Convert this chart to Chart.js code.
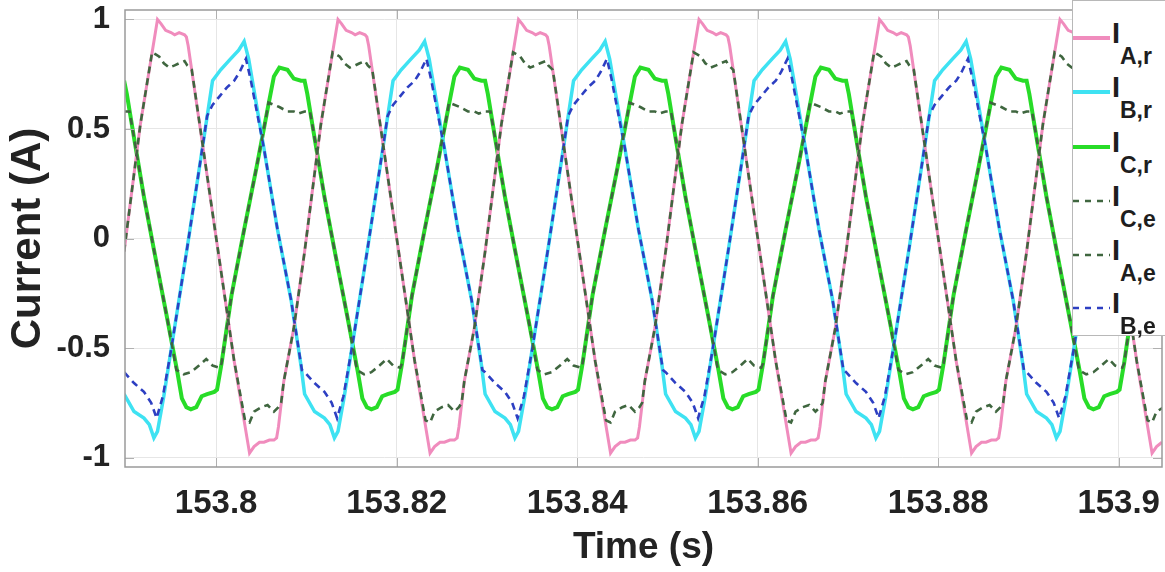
<!DOCTYPE html>
<html>
<head>
<meta charset="utf-8">
<script src="https://cdn.jsdelivr.net/npm/chart.js@4.4.1/dist/chart.umd.min.js"></script>
<style>
  body { margin: 0; background: #fff; }
  #wrap { position: relative; width: 1165px; height: 572px; overflow: hidden; }
  #legend { position: absolute; left: 1072px; top: 0; width: 95px; height: 336px; background: #fff;
            border: 1px solid #b8b8b8; box-sizing: border-box;
            font-family: "Liberation Sans", Arial, sans-serif; font-weight: bold; color: #1e1e1e; }
  .row { position: absolute; left: 0; width: 93px; height: 50px; }
  .row svg { position: absolute; left: 0; top: 18px; }
  .main { position: absolute; left: 39px; top: 2px; font-size: 29px; line-height: 29px; }
  .sub { position: absolute; left: 47px; top: 28px; font-size: 23px; line-height: 23px; }
</style>
</head>
<body>
<div id="wrap">
  <canvas id="chart" width="1165" height="572"></canvas>
  <div id="legend"></div>
</div>
<script>
// time in ms after 153.78 s
const T0 = 153.78;
const xTicks = [153.8, 153.82, 153.84, 153.86, 153.88, 153.9];
const yTicks = [-1, -0.5, 0, 0.5, 1];

const tAr = [
  9.8,11.6,13.5,13.9,14.4,15.0,15.4,15.9,16.5,16.7,16.9,19.8,22.0,23.7,24.2,24.8,25.3,25.9,26.4,26.7,26.9,27.5,28.6,
  29.8,31.6,33.5,33.9,34.4,35.0,35.4,35.9,36.5,36.7,36.9,39.8,42.0,43.7,44.2,44.8,45.3,45.9,46.4,46.7,46.9,47.5,48.6,
  49.8,51.6,53.5,53.9,54.4,55.0,55.4,55.9,56.5,56.7,56.9,59.8,62.0,63.7,64.2,64.8,65.3,65.9,66.4,66.7,66.9,67.5,68.6,
  69.8,71.6,73.5,73.9,74.4,75.0,75.4,75.9,76.5,76.7,76.9,79.8,82.0,83.7,84.2,84.8,85.3,85.9,86.4,86.7,86.9,87.5,88.6,
  89.8,91.6,93.5,93.9,94.4,95.0,95.4,95.9,96.5,96.7,96.9,99.8,102.0,103.7,104.2,104.8,105.3,105.9,106.4,106.7,106.9,107.5,108.6,
  109.8,111.6,113.5,113.9,114.4,115.0,115.4,115.9,116.5,116.7,116.9,119.8,122.0,123.7,124.2,124.8,125.3
];
const iAr = [
  -0.06,0.52,1.00,0.98,0.95,0.94,0.93,0.94,0.93,0.92,0.88,0.06,-0.56,-0.98,-0.95,-0.93,-0.93,-0.92,-0.92,-0.91,-0.86,-0.65,-0.41,
  -0.06,0.52,1.00,0.98,0.95,0.94,0.93,0.94,0.93,0.92,0.88,0.06,-0.56,-0.98,-0.95,-0.93,-0.93,-0.92,-0.92,-0.91,-0.86,-0.65,-0.41,
  -0.06,0.52,1.00,0.98,0.95,0.94,0.93,0.94,0.93,0.92,0.88,0.06,-0.56,-0.98,-0.95,-0.93,-0.93,-0.92,-0.92,-0.91,-0.86,-0.65,-0.41,
  -0.06,0.52,1.00,0.98,0.95,0.94,0.93,0.94,0.93,0.92,0.88,0.06,-0.56,-0.98,-0.95,-0.93,-0.93,-0.92,-0.92,-0.91,-0.86,-0.65,-0.41,
  -0.06,0.52,1.00,0.98,0.95,0.94,0.93,0.94,0.93,0.92,0.88,0.06,-0.56,-0.98,-0.95,-0.93,-0.93,-0.92,-0.92,-0.91,-0.86,-0.65,-0.41,
  -0.06,0.52,1.00,0.98,0.95,0.94,0.93,0.94,0.93,0.92,0.88,0.06,-0.56,-0.98,-0.95,-0.93,-0.93
];

const tBr = [
  9.8,10.9,12.0,12.6,13.1,13.5,14.2,15.0,16.8,18.5,19.6,20.5,21.6,22.5,23.1,23.6,25.3,26.8,28.3,29.4,
  29.8,30.9,32.0,32.6,33.1,33.5,34.2,35.0,36.8,38.5,39.6,40.5,41.6,42.5,43.1,43.6,45.3,46.8,48.3,49.4,
  49.8,50.9,52.0,52.6,53.1,53.5,54.2,55.0,56.8,58.5,59.6,60.5,61.6,62.5,63.1,63.6,65.3,66.8,68.3,69.4,
  69.8,70.9,72.0,72.6,73.1,73.5,74.2,75.0,76.8,78.5,79.6,80.5,81.6,82.5,83.1,83.6,85.3,86.8,88.3,89.4,
  89.8,90.9,92.0,92.6,93.1,93.5,94.2,95.0,96.8,98.5,99.6,100.5,101.6,102.5,103.1,103.6,105.3,106.8,108.3,109.4,
  109.8,110.9,112.0,112.6,113.1,113.5,114.2,115.0,116.8,118.5,119.6,120.5,121.6,122.5,123.1,123.6,125.3
];
const iBr = [
  -0.71,-0.79,-0.82,-0.85,-0.91,-0.88,-0.72,-0.51,-0.04,0.42,0.72,0.77,0.82,0.86,0.90,0.82,0.41,0.04,-0.28,-0.58,
  -0.71,-0.79,-0.82,-0.85,-0.91,-0.88,-0.72,-0.51,-0.04,0.42,0.72,0.77,0.82,0.86,0.90,0.82,0.41,0.04,-0.28,-0.58,
  -0.71,-0.79,-0.82,-0.85,-0.91,-0.88,-0.72,-0.51,-0.04,0.42,0.72,0.77,0.82,0.86,0.90,0.82,0.41,0.04,-0.28,-0.58,
  -0.71,-0.79,-0.82,-0.85,-0.91,-0.88,-0.72,-0.51,-0.04,0.42,0.72,0.77,0.82,0.86,0.90,0.82,0.41,0.04,-0.28,-0.58,
  -0.71,-0.79,-0.82,-0.85,-0.91,-0.88,-0.72,-0.51,-0.04,0.42,0.72,0.77,0.82,0.86,0.90,0.82,0.41,0.04,-0.28,-0.58,
  -0.71,-0.79,-0.82,-0.85,-0.91,-0.88,-0.72,-0.51,-0.04,0.42,0.72,0.77,0.82,0.86,0.90,0.82,0.41
];

const tCr = [
  9.8,10.1,10.9,12.0,13.1,14.6,15.7,16.2,16.7,17.2,17.8,18.4,19.0,19.8,20.1,20.6,21.7,23.1,24.5,25.7,26.4,27.0,27.9,28.6,29.4,
  29.8,30.1,30.9,32.0,33.1,34.6,35.7,36.2,36.7,37.2,37.8,38.4,39.0,39.8,40.1,40.6,41.7,43.1,44.5,45.7,46.4,47.0,47.9,48.6,49.4,
  49.8,50.1,50.9,52.0,53.1,54.6,55.7,56.2,56.7,57.2,57.8,58.4,59.0,59.8,60.1,60.6,61.7,63.1,64.5,65.7,66.4,67.0,67.9,68.6,69.4,
  69.8,70.1,70.9,72.0,73.1,74.6,75.7,76.2,76.7,77.2,77.8,78.4,79.0,79.8,80.1,80.6,81.7,83.1,84.5,85.7,86.4,87.0,87.9,88.6,89.4,
  89.8,90.1,90.9,92.0,93.1,94.6,95.7,96.2,96.7,97.2,97.8,98.4,99.0,99.8,100.1,100.6,101.7,103.1,104.5,105.7,106.4,107.0,107.9,108.6,109.4,
  109.8,110.1,110.9,112.0,113.1,114.6,115.7,116.2,116.7,117.2,117.8,118.4,119.0,119.8,120.1,120.6,121.7,123.1,124.5,125.7
];
const iCr = [
  0.72,0.66,0.46,0.19,-0.05,-0.37,-0.61,-0.73,-0.77,-0.78,-0.77,-0.72,-0.71,-0.70,-0.69,-0.57,-0.26,0.04,0.33,0.59,0.74,0.78,0.77,0.73,0.72,
  0.72,0.66,0.46,0.19,-0.05,-0.37,-0.61,-0.73,-0.77,-0.78,-0.77,-0.72,-0.71,-0.70,-0.69,-0.57,-0.26,0.04,0.33,0.59,0.74,0.78,0.77,0.73,0.72,
  0.72,0.66,0.46,0.19,-0.05,-0.37,-0.61,-0.73,-0.77,-0.78,-0.77,-0.72,-0.71,-0.70,-0.69,-0.57,-0.26,0.04,0.33,0.59,0.74,0.78,0.77,0.73,0.72,
  0.72,0.66,0.46,0.19,-0.05,-0.37,-0.61,-0.73,-0.77,-0.78,-0.77,-0.72,-0.71,-0.70,-0.69,-0.57,-0.26,0.04,0.33,0.59,0.74,0.78,0.77,0.73,0.72,
  0.72,0.66,0.46,0.19,-0.05,-0.37,-0.61,-0.73,-0.77,-0.78,-0.77,-0.72,-0.71,-0.70,-0.69,-0.57,-0.26,0.04,0.33,0.59,0.74,0.78,0.77,0.73,0.72,
  0.72,0.66,0.46,0.19,-0.05,-0.37,-0.61,-0.73,-0.77,-0.78,-0.77,-0.72,-0.71,-0.70,-0.69,-0.57,-0.26,0.04,0.33,0.59
];

const tCe = [
  9.8,10.4,10.9,12.0,13.1,14.6,15.6,16.4,17.2,18.1,18.9,19.6,20.4,20.6,21.7,23.1,24.5,25.6,25.8,27.0,27.9,28.6,29.1,
  29.8,30.4,30.9,32.0,33.1,34.6,35.6,36.4,37.2,38.1,38.9,39.6,40.4,40.6,41.7,43.1,44.5,45.6,45.8,47.0,47.9,48.6,49.1,
  49.8,50.4,50.9,52.0,53.1,54.6,55.6,56.4,57.2,58.1,58.9,59.6,60.4,60.6,61.7,63.1,64.5,65.6,65.8,67.0,67.9,68.6,69.1,
  69.8,70.4,70.9,72.0,73.1,74.6,75.6,76.4,77.2,78.1,78.9,79.6,80.4,80.6,81.7,83.1,84.5,85.6,85.8,87.0,87.9,88.6,89.1,
  89.8,90.4,90.9,92.0,93.1,94.6,95.6,96.4,97.2,98.1,98.9,99.6,100.4,100.6,101.7,103.1,104.5,105.6,105.8,107.0,107.9,108.6,109.1,
  109.8,110.4,110.9,112.0,113.1,114.6,115.6,116.4,117.2,118.1,118.9,119.6,120.4,120.6,121.7,123.1,124.5,125.6
];
const iCe = [
  0.58,0.58,0.46,0.19,-0.05,-0.37,-0.60,-0.62,-0.61,-0.58,-0.55,-0.58,-0.59,-0.57,-0.26,0.04,0.33,0.57,0.62,0.60,0.58,0.58,0.57,
  0.58,0.58,0.46,0.19,-0.05,-0.37,-0.60,-0.62,-0.61,-0.58,-0.55,-0.58,-0.59,-0.57,-0.26,0.04,0.33,0.57,0.62,0.60,0.58,0.58,0.57,
  0.58,0.58,0.46,0.19,-0.05,-0.37,-0.60,-0.62,-0.61,-0.58,-0.55,-0.58,-0.59,-0.57,-0.26,0.04,0.33,0.57,0.62,0.60,0.58,0.58,0.57,
  0.58,0.58,0.46,0.19,-0.05,-0.37,-0.60,-0.62,-0.61,-0.58,-0.55,-0.58,-0.59,-0.57,-0.26,0.04,0.33,0.57,0.62,0.60,0.58,0.58,0.57,
  0.58,0.58,0.46,0.19,-0.05,-0.37,-0.60,-0.62,-0.61,-0.58,-0.55,-0.58,-0.59,-0.57,-0.26,0.04,0.33,0.57,0.62,0.60,0.58,0.58,0.57,
  0.58,0.58,0.46,0.19,-0.05,-0.37,-0.60,-0.62,-0.61,-0.58,-0.55,-0.58,-0.59,-0.57,-0.26,0.04,0.33,0.57
];

const tAe = [
  9.8,11.6,12.9,13.3,13.7,14.2,14.8,15.4,15.9,16.5,16.8,17.3,19.8,22.0,23.2,23.7,24.2,25.0,25.7,26.4,26.9,27.2,27.5,28.6,
  29.8,31.6,32.9,33.3,33.7,34.2,34.8,35.4,35.9,36.5,36.8,37.3,39.8,42.0,43.2,43.7,44.2,45.0,45.7,46.4,46.9,47.2,47.5,48.6,
  49.8,51.6,52.9,53.3,53.7,54.2,54.8,55.4,55.9,56.5,56.8,57.3,59.8,62.0,63.2,63.7,64.2,65.0,65.7,66.4,66.9,67.2,67.5,68.6,
  69.8,71.6,72.9,73.3,73.7,74.2,74.8,75.4,75.9,76.5,76.8,77.3,79.8,82.0,83.2,83.7,84.2,85.0,85.7,86.4,86.9,87.2,87.5,88.6,
  89.8,91.6,92.9,93.3,93.7,94.2,94.8,95.4,95.9,96.5,96.8,97.3,99.8,102.0,103.2,103.7,104.2,105.0,105.7,106.4,106.9,107.2,107.5,108.6,
  109.8,111.6,112.9,113.3,113.7,114.2,114.8,115.4,115.9,116.5,116.8,117.3,119.8,122.0,123.2,123.7,124.2,125.0
];
const iAe = [
  -0.06,0.52,0.85,0.84,0.83,0.80,0.78,0.79,0.80,0.81,0.79,0.77,0.06,-0.56,-0.83,-0.84,-0.79,-0.77,-0.76,-0.79,-0.77,-0.75,-0.65,-0.41,
  -0.06,0.52,0.85,0.84,0.83,0.80,0.78,0.79,0.80,0.81,0.79,0.77,0.06,-0.56,-0.83,-0.84,-0.79,-0.77,-0.76,-0.79,-0.77,-0.75,-0.65,-0.41,
  -0.06,0.52,0.85,0.84,0.83,0.80,0.78,0.79,0.80,0.81,0.79,0.77,0.06,-0.56,-0.83,-0.84,-0.79,-0.77,-0.76,-0.79,-0.77,-0.75,-0.65,-0.41,
  -0.06,0.52,0.85,0.84,0.83,0.80,0.78,0.79,0.80,0.81,0.79,0.77,0.06,-0.56,-0.83,-0.84,-0.79,-0.77,-0.76,-0.79,-0.77,-0.75,-0.65,-0.41,
  -0.06,0.52,0.85,0.84,0.83,0.80,0.78,0.79,0.80,0.81,0.79,0.77,0.06,-0.56,-0.83,-0.84,-0.79,-0.77,-0.76,-0.79,-0.77,-0.75,-0.65,-0.41,
  -0.06,0.52,0.85,0.84,0.83,0.80,0.78,0.79,0.80,0.81,0.79,0.77,0.06,-0.56,-0.83,-0.84,-0.79,-0.77
];

const tBe = [
  9.8,10.9,12.0,12.8,13.4,14.1,15.0,16.8,18.5,19.0,19.6,20.4,21.2,22.0,22.6,23.3,23.8,25.3,26.8,28.3,29.5,
  29.8,30.9,32.0,32.8,33.4,34.1,35.0,36.8,38.5,39.0,39.6,40.4,41.2,42.0,42.6,43.3,43.8,45.3,46.8,48.3,49.5,
  49.8,50.9,52.0,52.8,53.4,54.1,55.0,56.8,58.5,59.0,59.6,60.4,61.2,62.0,62.6,63.3,63.8,65.3,66.8,68.3,69.5,
  69.8,70.9,72.0,72.8,73.4,74.1,75.0,76.8,78.5,79.0,79.6,80.4,81.2,82.0,82.6,83.3,83.8,85.3,86.8,88.3,89.5,
  89.8,90.9,92.0,92.8,93.4,94.1,95.0,96.8,98.5,99.0,99.6,100.4,101.2,102.0,102.6,103.3,103.8,105.3,106.8,108.3,109.5,
  109.8,110.9,112.0,112.8,113.4,114.1,115.0,116.8,118.5,119.0,119.6,120.4,121.2,122.0,122.6,123.3,123.8,125.3
];
const iBe = [
  -0.61,-0.66,-0.70,-0.75,-0.82,-0.72,-0.51,-0.04,0.42,0.56,0.61,0.65,0.69,0.72,0.76,0.82,0.73,0.41,0.04,-0.28,-0.60,
  -0.61,-0.66,-0.70,-0.75,-0.82,-0.72,-0.51,-0.04,0.42,0.56,0.61,0.65,0.69,0.72,0.76,0.82,0.73,0.41,0.04,-0.28,-0.60,
  -0.61,-0.66,-0.70,-0.75,-0.82,-0.72,-0.51,-0.04,0.42,0.56,0.61,0.65,0.69,0.72,0.76,0.82,0.73,0.41,0.04,-0.28,-0.60,
  -0.61,-0.66,-0.70,-0.75,-0.82,-0.72,-0.51,-0.04,0.42,0.56,0.61,0.65,0.69,0.72,0.76,0.82,0.73,0.41,0.04,-0.28,-0.60,
  -0.61,-0.66,-0.70,-0.75,-0.82,-0.72,-0.51,-0.04,0.42,0.56,0.61,0.65,0.69,0.72,0.76,0.82,0.73,0.41,0.04,-0.28,-0.60,
  -0.61,-0.66,-0.70,-0.75,-0.82,-0.72,-0.51,-0.04,0.42,0.56,0.61,0.65,0.69,0.72,0.76,0.82,0.73,0.41
];

const SERIES = [
  { sub: "A,r", t: tAr, v: iAr, color: "#f08cbd", width: 3,   dash: [] },
  { sub: "B,r", t: tBr, v: iBr, color: "#3ee2f2", width: 3.5, dash: [] },
  { sub: "C,r", t: tCr, v: iCr, color: "#28dc28", width: 4,   dash: [] },
  { sub: "C,e", t: tCe, v: iCe, color: "#3f663f", width: 2.6, dash: [7, 5] },
  { sub: "A,e", t: tAe, v: iAe, color: "#3f663f", width: 2.6, dash: [7, 5] },
  { sub: "B,e", t: tBe, v: iBe, color: "#2d3fc2", width: 2.6, dash: [7, 5] }
];
const LEGEND_Y = [37, 91, 146, 200, 254, 307];

const FONT = "'Liberation Sans', Arial, sans-serif";

const boxPlugin = {
  id: "box",
  afterDraw(chart) {
    const { ctx, chartArea: a, scales } = chart;
    ctx.save();
    ctx.strokeStyle = "#b0b0b0";
    ctx.lineWidth = 1;
    ctx.beginPath();
    yTicks.forEach(v => {
      const y = Math.round(scales.y.getPixelForValue(v)) + 0.5;
      ctx.moveTo(a.left, y); ctx.lineTo(a.left + 9, y);
      ctx.moveTo(a.right, y); ctx.lineTo(a.right - 9, y);
    });
    xTicks.forEach(v => {
      const x = Math.round(scales.x.getPixelForValue(v)) + 0.5;
      ctx.moveTo(x, a.bottom); ctx.lineTo(x, a.bottom - 9);
      ctx.moveTo(x, a.top); ctx.lineTo(x, a.top + 9);
    });
    ctx.stroke();
    ctx.strokeStyle = "#9a9a9a";
    ctx.lineWidth = 1.5;
    ctx.strokeRect(a.left, a.top, a.right - a.left, a.bottom - a.top);
    ctx.restore();
  }
};

new Chart(document.getElementById("chart"), {
  type: "line",
  data: {
    datasets: SERIES.map(s => ({
      label: "I " + s.sub,
      data: s.t.map((ms, i) => ({ x: T0 + ms / 1000, y: s.v[i] })),
      borderColor: s.color,
      borderWidth: s.width,
      borderDash: s.dash,
      pointRadius: 0,
      tension: 0,
      fill: false,
      order: s.dash.length ? 1 : 2
    }))
  },
  options: {
    responsive: false,
    animation: false,
    events: [],
    layout: { padding: { top: 10, right: 3, left: 0, bottom: 0 } },
    plugins: { legend: { display: false }, tooltip: { enabled: false } },
    scales: {
      x: {
        type: "linear",
        min: 153.7899, max: 153.9048,
        border: { display: false },
        grid: { color: "#e6e6e6", drawTicks: false },
        afterBuildTicks: s => { s.ticks = xTicks.map(v => ({ value: v })); },
        afterFit: s => { s.height = 105; s.paddingLeft = 0; s.paddingRight = 0; },
        ticks: {
          padding: 17, color: "#232323",
          font: { family: FONT, size: 33, weight: "bold" },
          callback: v => String(+v.toFixed(2))
        },
        title: {
          display: true, text: "Time (s)", color: "#232323",
          font: { family: FONT, size: 37, weight: "bold", lineHeight: 1 },
          padding: { top: 0, bottom: 6 }
        }
      },
      y: {
        min: -1.043, max: 1.043,
        border: { display: false },
        grid: { color: "#e6e6e6", drawTicks: false },
        afterBuildTicks: s => { s.ticks = yTicks.map(v => ({ value: v })); },
        afterFit: s => { s.width = 125; s.paddingTop = 0; s.paddingBottom = 0; },
        ticks: {
          padding: 15, color: "#232323",
          font: { family: FONT, size: 31, weight: "bold" },
          callback: v => String(v)
        },
        title: {
          display: true, text: "Current (A)", color: "#232323",
          font: { family: FONT, size: 42, weight: "bold", lineHeight: 1 },
          padding: { top: 7, bottom: 0 }
        }
      }
    }
  },
  plugins: [boxPlugin]
});

// legend with subscripts, drawn as HTML text
const legend = document.getElementById("legend");
SERIES.forEach((s, k) => {
  const row = document.createElement("div");
  row.className = "row";
  row.style.top = (LEGEND_Y[k] - 21) + "px";
  const dash = s.dash.length ? `stroke-dasharray="6 6"` : "";
  const w = s.dash.length ? 2.5 : 4;
  row.innerHTML =
    `<svg width="37" height="6"><line x1="0" y1="3" x2="37" y2="3" stroke="${s.color}" stroke-width="${w}" ${dash}/></svg>` +
    `<span class="main">I</span><span class="sub">${s.sub}</span>`;
  legend.appendChild(row);
});
</script>
</body>
</html>
